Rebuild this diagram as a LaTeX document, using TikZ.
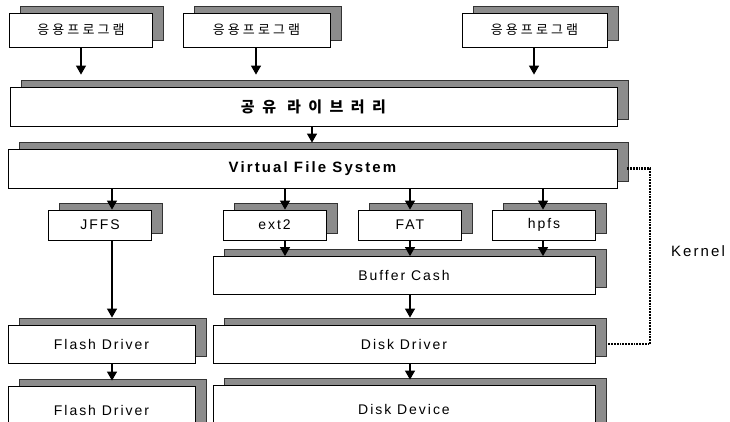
\documentclass[tikz,border=0pt]{standalone}
\usepackage{fontspec}
\setmainfont{Liberation Sans}
\newfontfamily\latinsp{Liberation Sans}[LetterSpace=14]
\newfontfamily\korsp{Noto Sans CJK KR}[LetterSpace=24]
\newfontfamily\korwide{Noto Sans CJK KR}[LetterSpace=50]
\usetikzlibrary{arrows.meta,shadows}

\tikzset{
  blk/.style={draw, fill=white, line width=0.8pt, inner sep=0pt,
    copy shadow={shadow xshift=11pt, shadow yshift=7pt, fill=black!45, draw=black!80, line width=0.6pt}},
  app/.style={blk, minimum height=34pt, font=\korsp\fontsize{13}{15}\selectfont},
  wide/.style={blk, minimum width=607pt, minimum height=39pt},
  fs/.style={blk, minimum width=103pt, minimum height=30pt, font=\latinsp\fontsize{14}{16}\selectfont},
  mid/.style={blk, minimum width=382pt, minimum height=38pt, font=\latinsp\fontsize{14}{16}\selectfont},
  drv/.style={blk, minimum width=187pt, minimum height=38pt, font=\latinsp\fontsize{14}{16}\selectfont},
  arr/.style={line width=1.2pt, -{Triangle[width=10pt,length=9pt]}},
  kline/.style={line width=2.2pt, dash pattern=on 1.8pt off 1pt}
}

\begin{document}
\begin{tikzpicture}[x=1pt,y=-1pt]
  \useasboundingbox (0,0) rectangle (730,422);
  \clip (0,0) rectangle (730,422);

  \coordinate (ca1) at (81,0);
  \coordinate (ca2) at (256,0);
  \coordinate (ca3) at (534,0);
  \coordinate (cl) at (312,0);
  \coordinate (cj) at (112,0);
  \coordinate (ce) at (285,0);
  \coordinate (cf) at (410,0);
  \coordinate (ch) at (543,0);
  \coordinate (kb) at (650,344);

  \node[app, minimum width=143pt] (app1) at (81,30) {응용프로그램};
  \node[app, minimum width=147pt] (app2) at (256.5,30) {응용프로그램};
  \node[app, minimum width=145pt] (app3) at (534.5,30) {응용프로그램};

  \node[wide, font=\korwide\bfseries\fontsize{15}{17}\selectfont] (lib) at (313.5,106.5) {공유 라이브러리};
  \node[wide, minimum width=609pt, font=\latinsp\bfseries\fontsize{15}{17}\selectfont] (vfs) at (312.5,168.5) {Virtual File System};

  \node[fs] (jffs) at (100,225) {JFFS};
  \node[fs] (ext2) at (274.5,225) {ext2};
  \node[fs] (fat) at (410,225) {FAT};
  \node[fs] (hpfs) at (544,225) {hpfs};

  \node[mid] (buf) at (404,275.5) {Buffer Cash};
  \node[mid] (ddrv) at (404,344) {Disk Driver};
  \node[mid, minimum height=48pt] (ddev) at (404,409) {Disk Device};
  \node[drv] (fdrv) at (101.5,344) {Flash Driver};
  \node[drv, minimum height=48pt] (fdev) at (101.5,410) {Flash Driver};

  \node[font=\latinsp\fontsize{15}{17}\selectfont] (kern) at (698,251) {Kernel};

  \draw[arr, shorten >=12pt] (app1.south -| ca1) -- (lib.north -| ca1);
  \draw[arr, shorten >=12pt] (app2.south -| ca2) -- (lib.north -| ca2);
  \draw[arr, shorten >=12pt] (app3.south -| ca3) -- (lib.north -| ca3);
  \draw[arr, shorten >=6pt] (lib.south -| cl) -- (vfs.north -| cl);

  \draw[arr] (vfs.south -| cj) -- (jffs.north -| cj);
  \draw[arr] (vfs.south -| ce) -- (ext2.north -| ce);
  \draw[arr] (vfs.south -| cf) -- (fat.north -| cf);
  \draw[arr] (vfs.south -| ch) -- (hpfs.north -| ch);

  \draw[arr] (ext2.south -| ce) -- (buf.north -| ce);
  \draw[arr] (fat.south -| cf) -- (buf.north -| cf);
  \draw[arr] (hpfs.south -| ch) -- (buf.north -| ch);

  \draw[arr, shorten >=7pt] (jffs.south -| cj) -- (fdrv.north -| cj);
  \draw[arr, shorten >=5pt] (fdrv.south -| cj) -- (fdev.north -| cj);
  \draw[arr, shorten >=7pt] (buf.south -| cf) -- (ddrv.north -| cf);
  \draw[arr, shorten >=5pt] (ddrv.south -| cf) -- (ddev.north -| cf);

  \draw[kline] ([xshift=10pt]vfs.east) -| (kb) -- ([xshift=12pt]ddrv.east);
\end{tikzpicture}
\end{document}
